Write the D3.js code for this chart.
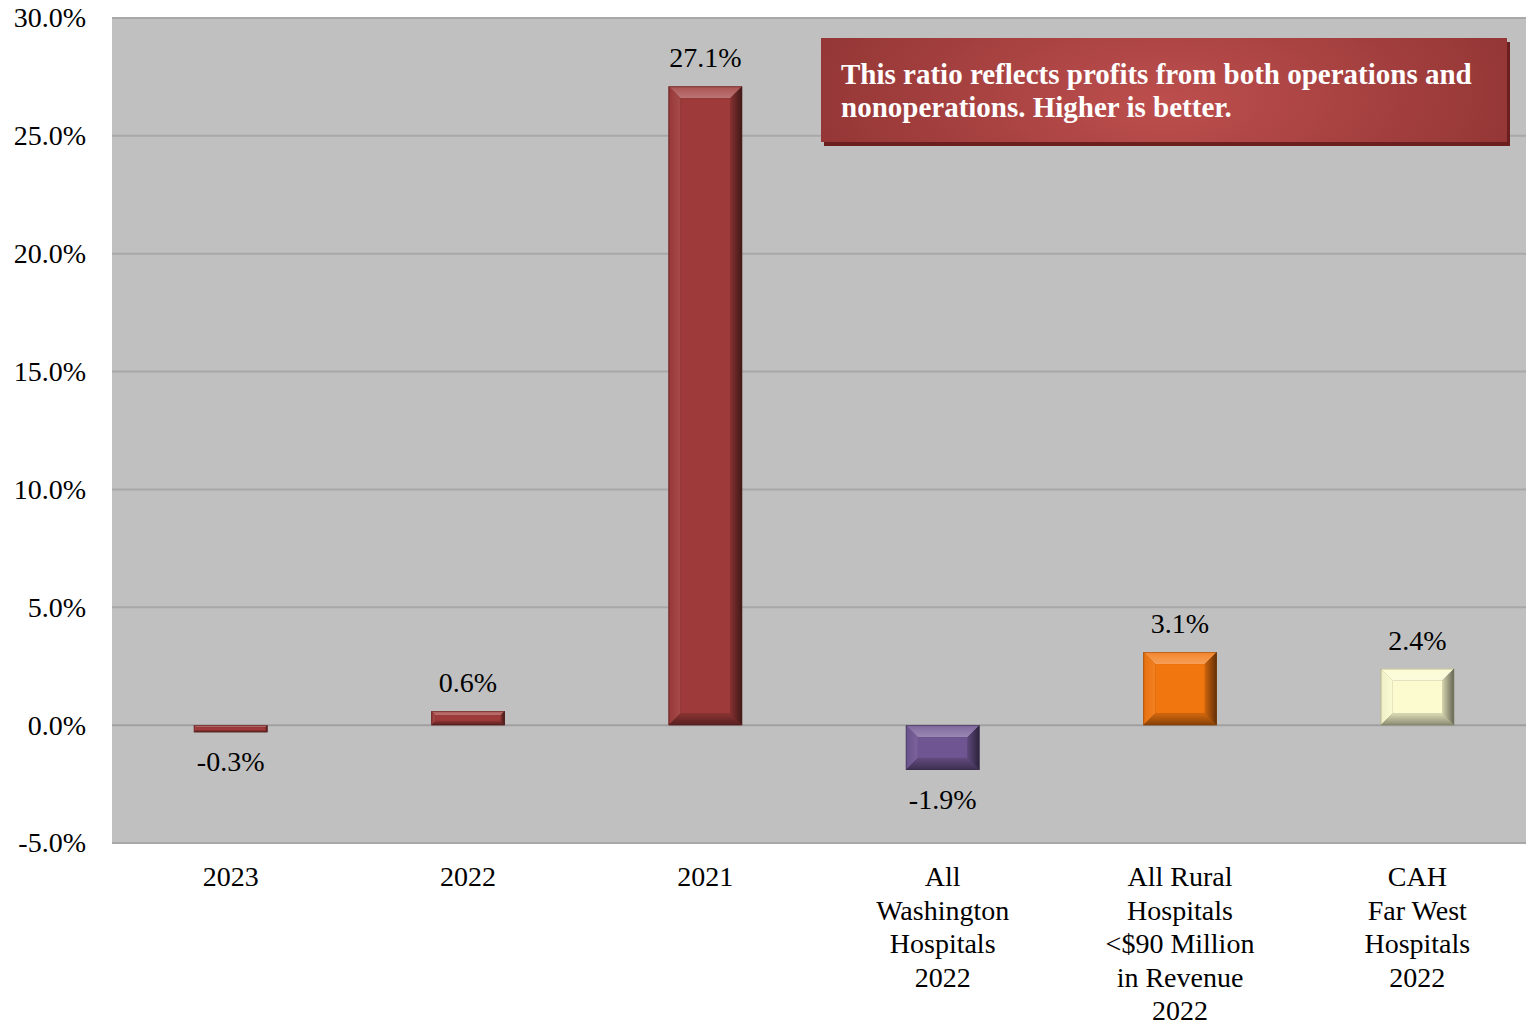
<!DOCTYPE html>
<html>
<head>
<meta charset="utf-8">
<script src="https://cdn.jsdelivr.net/npm/d3@7"></script>
<style>
  html, body { margin: 0; padding: 0; background: #ffffff; }
  svg { display: block; }
  text { font-family: "Liberation Serif", "Times New Roman", serif; }
</style>
</head>
<body>
<svg id="chart" width="1526" height="1025"></svg>
<script>
// Total margin ratio by peer group
const categories = [
  ["2023"],
  ["2022"],
  ["2021"],
  ["All", "Washington", "Hospitals", "2022"],
  ["All Rural", "Hospitals", "<$90 Million", "in Revenue", "2022"],
  ["CAH", "Far West", "Hospitals", "2022"]
];
const values = [-0.3, 0.6, 27.1, -1.9, 3.1, 2.4];
const valueLabels = ["-0.3%", "0.6%", "27.1%", "-1.9%", "3.1%", "2.4%"];
const barColors = ["#9e3b3a", "#9e3b3a", "#9e3b3a", "#6f5592", "#f2760f", "#fbfbcf"];
const yTicks = [-5, 0, 5, 10, 15, 20, 25, 30];
const noteLines = [
  "This ratio reflects profits from both operations and",
  "nonoperations. Higher is better."
];

const svg = d3.select("#chart");
const defs = svg.append("defs");
const plot = { left: 112, right: 1536, top: 18, bottom: 843 };

const x = d3.scaleBand()
  .domain(d3.range(values.length))
  .range([plot.left, plot.right])
  .paddingInner(0.69)
  .paddingOuter(0.345);

const y = d3.scaleLinear().domain([-5, 30]).range([plot.bottom, plot.top]);

// plot background
svg.append("rect")
  .attr("x", plot.left).attr("y", plot.top)
  .attr("width", plot.right - plot.left).attr("height", plot.bottom - plot.top)
  .attr("fill", "#c0c0c0");

// gridlines
svg.append("g")
  .selectAll("line")
  .data(yTicks)
  .join("line")
  .attr("x1", plot.left).attr("x2", plot.right)
  .attr("y1", d => y(d)).attr("y2", d => y(d))
  .attr("stroke", d => (d === 0 ? "#a0a0a0" : "#a8a8a8"))
  .attr("stroke-width", 2);

// y axis labels
const yAxis = d3.axisLeft(y)
  .tickValues(yTicks)
  .tickFormat(d => d3.format(".1f")(d).replace("\u2212", "-") + "%")
  .tickSize(0)
  .tickPadding(26);
svg.append("g")
  .attr("transform", `translate(${plot.left},0)`)
  .call(yAxis)
  .call(g => g.select(".domain").remove())
  .selectAll("text")
  .attr("font-size", 28)
  .attr("fill", "#000")
  .attr("dy", "0.32em")
  .style("font-family", "'Liberation Serif', 'Times New Roman', serif");

// bevelled bars
function shade(color, k) {
  const c = d3.color(color);
  return k > 0 ? d3.interpolateRgb(c, "#ffffff")(k) : d3.interpolateRgb(c, "#000000")(-k);
}

function sideGradient(id, dir, from, to) {
  const g = defs.append("linearGradient").attr("id", id)
    .attr("x1", dir[0]).attr("y1", dir[1]).attr("x2", dir[2]).attr("y2", dir[3]);
  g.append("stop").attr("offset", "0%").attr("stop-color", from);
  g.append("stop").attr("offset", "100%").attr("stop-color", to);
  return `url(#${id})`;
}

const bars = svg.append("g");
values.forEach((v, i) => {
  const x0 = x(i), x1 = x(i) + x.bandwidth();
  const yTop = y(Math.max(0, v)), yBot = y(Math.min(0, v));
  const h = yBot - yTop, w = x1 - x0;
  const b = Math.min(12, h * 0.3, w * 0.2);
  const col = barColors[i];
  const g = bars.append("g");
  g.append("rect").attr("x", x0).attr("y", yTop).attr("width", w).attr("height", h)
    .attr("fill", shade(col, -0.35));
  const poly = (pts, fill) => g.append("polygon")
    .attr("points", pts.map(p => p.join(",")).join(" "))
    .attr("fill", fill);
  // top bevel: light edge fading into face
  poly([[x0, yTop], [x1, yTop], [x1 - b, yTop + b], [x0 + b, yTop + b]],
    sideGradient(`top${i}`, ["0", "0", "0", "1"], shade(col, 0.12), shade(col, 0.3)));
  // left bevel
  poly([[x0, yTop], [x0 + b, yTop + b], [x0 + b, yBot - b], [x0, yBot]],
    sideGradient(`left${i}`, ["0", "0", "1", "0"], shade(col, -0.05), shade(col, 0.08)));
  // right bevel: darkens to the outer edge
  poly([[x1, yTop], [x1, yBot], [x1 - b, yBot - b], [x1 - b, yTop + b]],
    sideGradient(`right${i}`, ["0", "0", "1", "0"], shade(col, -0.15), shade(col, -0.6)));
  // bottom bevel
  poly([[x0, yBot], [x1, yBot], [x1 - b, yBot - b], [x0 + b, yBot - b]],
    sideGradient(`bot${i}`, ["0", "0", "0", "1"], shade(col, -0.12), shade(col, -0.45)));
  // face
  if (h - 2 * b > 0) {
    g.append("rect").attr("x", x0 + b).attr("y", yTop + b)
      .attr("width", w - 2 * b).attr("height", h - 2 * b).attr("fill", col);
  }
  g.append("rect").attr("x", x0 + 0.5).attr("y", yTop + 0.5)
    .attr("width", w - 1).attr("height", Math.max(0, h - 1))
    .attr("fill", "none").attr("stroke", shade(col, -0.5)).attr("stroke-opacity", 0.45);
});

// value labels
svg.append("g")
  .selectAll("text")
  .data(values)
  .join("text")
  .attr("x", (d, i) => x(i) + x.bandwidth() / 2)
  .attr("y", d => (d >= 0 ? y(d) - 19 : y(d) + 39))
  .attr("text-anchor", "middle")
  .attr("font-size", 28)
  .attr("fill", "#000")
  .text((d, i) => valueLabels[i]);

// category labels
const cat = svg.append("g");
categories.forEach((lines, i) => {
  const t = cat.append("text")
    .attr("x", x(i) + x.bandwidth() / 2)
    .attr("y", 886)
    .attr("text-anchor", "middle")
    .attr("font-size", 28)
    .attr("fill", "#000");
  lines.forEach((ln, j) => {
    t.append("tspan").attr("x", x(i) + x.bandwidth() / 2).attr("y", 886 + j * 33.5).text(ln);
  });
});

// note box
const grad = defs.append("radialGradient")
  .attr("id", "noteFill")
  .attr("cx", "50%").attr("cy", "50%").attr("r", "60%")
  .attr("fx", "50%").attr("fy", "55%")
  .attr("gradientTransform", "translate(0.5,0.5) scale(1,3) translate(-0.5,-0.5)");
grad.append("stop").attr("offset", "0%").attr("stop-color", "#bd4f4e");
grad.append("stop").attr("offset", "100%").attr("stop-color", "#8e3332");

const note = { x: 821, y: 38, w: 686, h: 104 };
svg.append("rect")
  .attr("x", note.x + 3).attr("y", note.y + 4)
  .attr("width", note.w).attr("height", note.h)
  .attr("fill", "#6b1f1f");
svg.append("rect")
  .attr("x", note.x).attr("y", note.y)
  .attr("width", note.w).attr("height", note.h)
  .attr("fill", "url(#noteFill)");
const nt = svg.append("text")
  .attr("font-size", 29)
  .attr("font-weight", "bold")
  .attr("fill", "#ffffff");
noteLines.forEach((ln, j) => {
  nt.append("tspan").attr("x", note.x + 20).attr("y", note.y + 46 + j * 33).text(ln);
});
</script>
</body>
</html>
